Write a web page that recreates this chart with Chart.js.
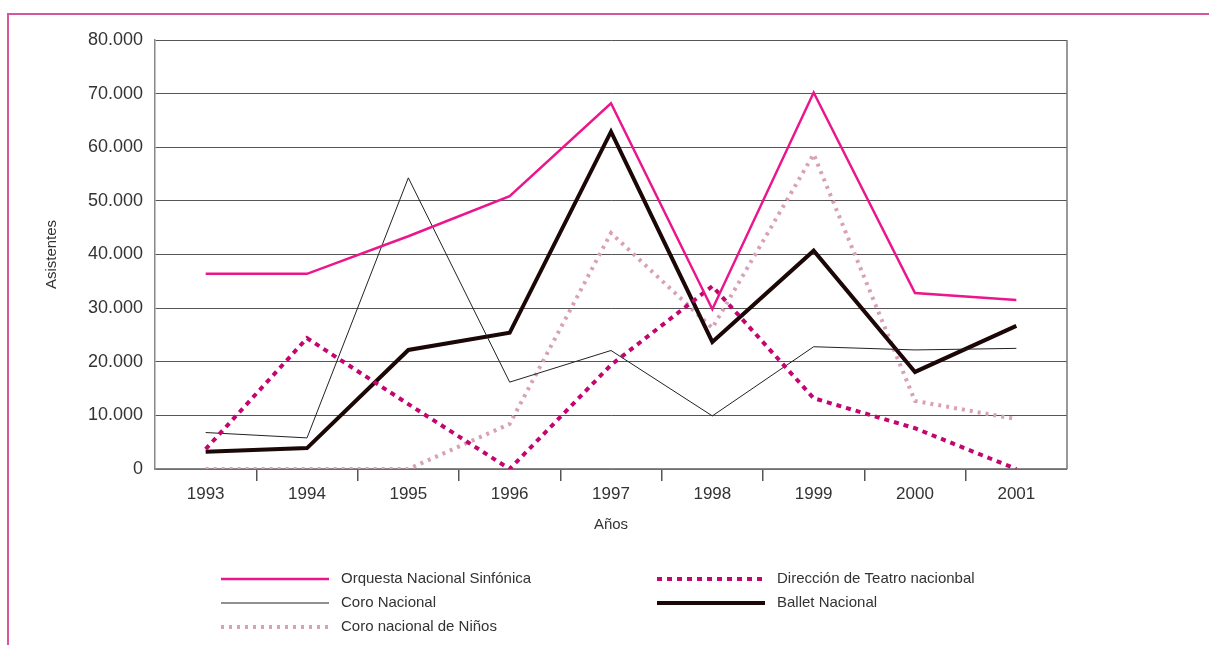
<!DOCTYPE html>
<html>
<head>
<meta charset="utf-8">
<script src="https://cdn.jsdelivr.net/npm/chart.js@4"></script>
<style>
  html, body { margin: 0; padding: 0; background: #fff; }
  #wrap { position: relative; width: 1209px; height: 645px; }
</style>
</head>
<body>
<div id="wrap"><canvas id="myChart"></canvas></div>
<script>
// Datos
const anios = ["1993", "1994", "1995", "1996", "1997", "1998", "1999", "2000", "2001"];
const orquesta = [36400, 36400, 43400, 50900, 68200, 29800, 70200, 32800, 31500];
const teatro = [3700, 24400, 12100, 0, 19400, 34100, 13200, 7600, 0];
const coro = [6800, 5800, 54300, 16200, 22100, 9900, 22800, 22200, 22500];
const ballet = [3200, 3900, 22200, 25400, 62900, 23700, 40700, 18100, 26700];
const ninos = [0, 0, 0, 8400, 44000, 26300, 58700, 12700, 9300];
const ticksY = [0, 10000, 20000, 30000, 40000, 50000, 60000, 70000, 80000];

function formatoMiles(v) {
  return String(v).replace(/\B(?=(\d{3})+(?!\d))/g, ".");
}

// marco rosado de la pagina + borde derecho del area
const marcoPlugin = {
  id: "marco",
  beforeDraw(chart) {
    const ctx = chart.ctx;
    ctx.save();
    ctx.fillStyle = "#fff";
    ctx.fillRect(0, 0, chart.width, chart.height);
    ctx.strokeStyle = "#d6569d";
    ctx.lineWidth = 2;
    ctx.beginPath();
    ctx.moveTo(chart.width, 14);
    ctx.lineTo(8, 14);
    ctx.lineTo(8, chart.height);
    ctx.stroke();
    ctx.restore();
  },
  beforeDatasetsDraw(chart) {
    const a = chart.chartArea;
    const ctx = chart.ctx;
    ctx.save();
    ctx.strokeStyle = "#777";
    ctx.lineWidth = 1.5;
    ctx.beginPath();
    ctx.moveTo(a.right, a.top);
    ctx.lineTo(a.right, a.bottom);
    ctx.stroke();
    ctx.restore();
  },
};

// leyenda en dos columnas
const leyendaPlugin = {
  id: "leyenda",
  afterDraw(chart, args, opts) {
    const ctx = chart.ctx;
    chart.data.datasets.forEach((ds, i) => {
      const col = i % 2;
      const fila = Math.floor(i / 2);
      const x = opts.x[col];
      const y = opts.y0 + fila * opts.dy;
      ctx.save();
      ctx.strokeStyle = ds.borderColor;
      ctx.lineWidth = ds.borderWidth;
      ctx.lineCap = "butt";
      ctx.setLineDash(ds.borderDash || []);
      ctx.beginPath();
      ctx.moveTo(x, y);
      ctx.lineTo(x + opts.largo, y);
      ctx.stroke();
      ctx.setLineDash([]);
      ctx.fillStyle = "#333";
      ctx.font = '15px "Liberation Sans", Arial, sans-serif';
      ctx.textBaseline = "middle";
      ctx.fillText(ds.label, x + opts.largo + opts.gap, y);
      ctx.restore();
    });
  },
};

const ctx = document.getElementById("myChart").getContext("2d");

const data = {
  labels: anios,
  datasets: [
    {
      label: "Orquesta Nacional Sinfónica",
      data: orquesta,
      borderColor: "#ec168c",
      borderWidth: 2.5,
    },
    {
      label: "Dirección de Teatro nacionbal",
      data: teatro,
      borderColor: "#c4046f",
      borderWidth: 4,
      borderDash: [5, 5],
    },
    {
      label: "Coro Nacional",
      data: coro,
      borderColor: "#222",
      borderWidth: 1,
    },
    {
      label: "Ballet Nacional",
      data: ballet,
      borderColor: "#1c0707",
      borderWidth: 4,
    },
    {
      label: "Coro nacional de Niños",
      data: ninos,
      borderColor: "#d9a1b9",
      borderWidth: 4,
      borderDash: [3, 5],
    },
  ],
};

const config = {
  type: "line",
  data: data,
  plugins: [marcoPlugin, leyendaPlugin],
  options: {
    responsive: true,
    maintainAspectRatio: false,
    animation: false,
    layout: { padding: { left: 40, top: 40, right: 142, bottom: 106 } },
    elements: {
      point: { radius: 0 },
      line: { tension: 0, borderCapStyle: "butt", borderJoinStyle: "miter", fill: false },
    },
    plugins: {
      legend: { display: false },
      tooltip: { enabled: false },
      leyenda: { x: [221, 657], y0: 579, dy: 24, largo: 108, gap: 12 },
    },
    scales: {
      x: {
        offset: true,
        afterFit: (s) => { s.height = 70; },
        grid: {
          offset: true,
          drawOnChartArea: false,
          drawTicks: true,
          tickLength: 12,
          lineWidth: 1.5,
          color: (c) => (c.type !== "tick" || c.index === 0 ? "transparent" : "#555"),
        },
        border: { display: true, color: "#888", width: 1.5 },
        ticks: {
          color: "#333",
          padding: 3,
          font: { family: '"Liberation Sans", Arial, sans-serif', size: 17 },
        },
        title: {
          display: true,
          text: "Años",
          color: "#333",
          padding: { top: 0, bottom: 5 },
          font: { family: '"Liberation Sans", Arial, sans-serif', size: 15 },
        },
      },
      y: {
        min: 0,
        max: 80000,
        afterFit: (s) => { s.width = 115; },
        afterBuildTicks: (s) => { s.ticks = ticksY.map((v) => ({ value: v })); },
        grid: { color: "#555", lineWidth: 1, drawTicks: false },
        border: { display: true, color: "#888", width: 1.5 },
        ticks: {
          color: "#333",
          padding: 12,
          font: { family: '"Liberation Sans", Arial, sans-serif', size: 18 },
          callback: (v) => formatoMiles(v),
        },
        title: {
          display: true,
          text: "Asistentes",
          color: "#333",
          padding: { top: 3, bottom: 0 },
          font: { family: '"Liberation Sans", Arial, sans-serif', size: 15 },
        },
      },
    },
  },
};

const myChart = new Chart(ctx, config);
</script>
</body>
</html>
